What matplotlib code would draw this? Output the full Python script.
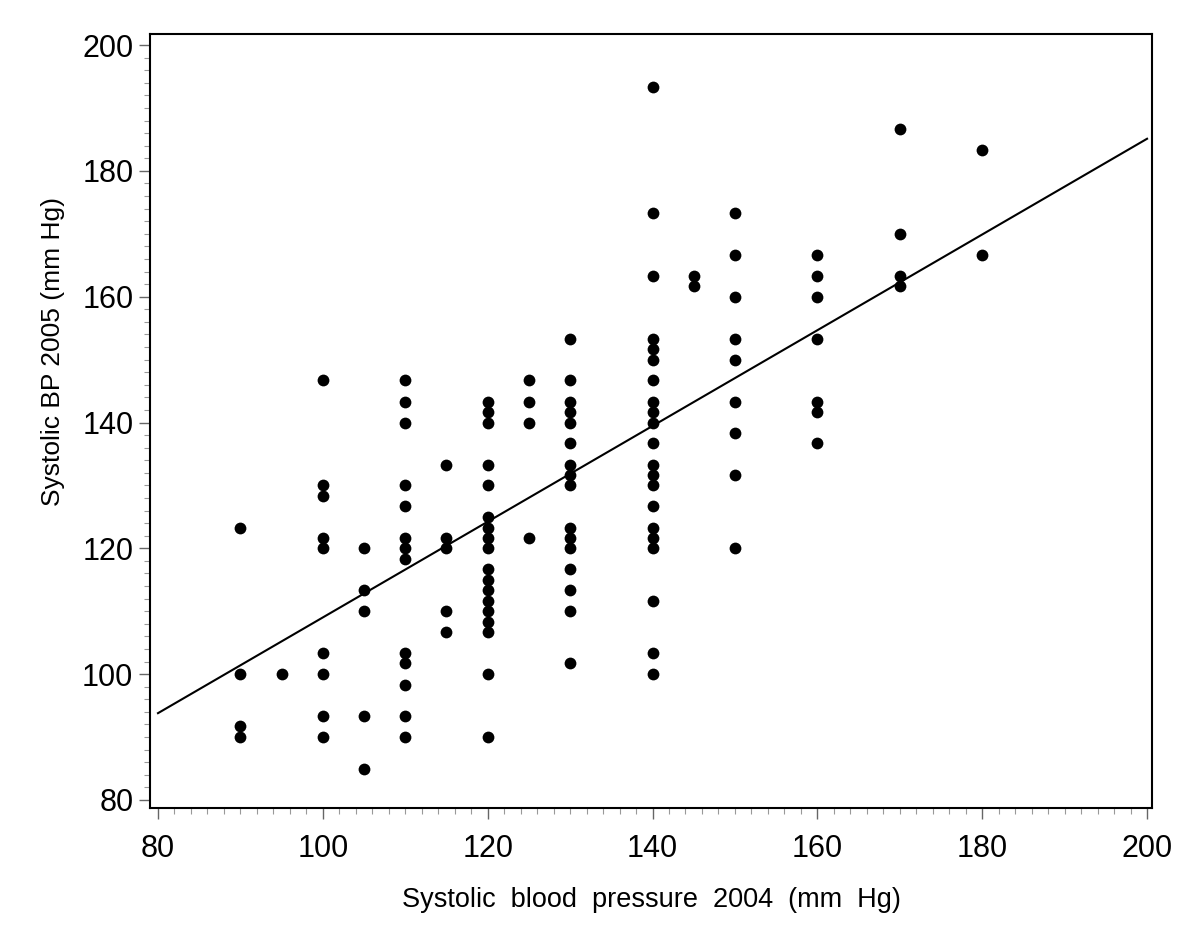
import numpy as np
import matplotlib
matplotlib.use("Agg")
import matplotlib.pyplot as plt
from matplotlib.ticker import MultipleLocator

plt.rcParams['font.family'] = ['Liberation Sans', 'DejaVu Sans']

# Systolic BP 2004 (x) -> list of systolic BP 2005 values (y)
bp2004_levels = [90, 95, 100, 105, 110, 115, 120, 125, 130, 140, 145, 150, 160, 170, 180]
bp2005_at_90 = [123.3, 100, 91.7, 90]
bp2005_at_95 = [100]
bp2005_at_100 = [146.7, 130, 128.3, 121.7, 120, 103.3, 100, 93.3, 90]
bp2005_at_105 = [120, 113.3, 110, 93.3, 85]
bp2005_at_110 = [146.7, 143.3, 140, 130, 126.7, 121.7, 120, 118.3, 103.3, 101.7, 98.3, 93.3, 90]
bp2005_at_115 = [133.3, 121.7, 120, 110, 106.7]
bp2005_at_120 = [143.3, 141.7, 140, 133.3, 130, 125, 123.3, 121.7, 120, 116.7, 115, 113.3,
                 111.7, 110, 108.3, 106.7, 100, 90]
bp2005_at_125 = [146.7, 143.3, 140, 121.7]
bp2005_at_130 = [153.3, 146.7, 143.3, 141.7, 140, 136.7, 133.3, 131.7, 130, 123.3, 121.7, 120,
                 116.7, 113.3, 110, 101.7]
bp2005_at_140 = [193.3, 173.3, 163.3, 153.3, 151.7, 150, 146.7, 143.3, 141.7, 140, 136.7, 133.3,
                 131.7, 130, 126.7, 123.3, 121.7, 120, 111.7, 103.3, 100]
bp2005_at_145 = [163.3, 161.7]
bp2005_at_150 = [173.3, 166.7, 160, 153.3, 150, 143.3, 138.3, 131.7, 120]
bp2005_at_160 = [166.7, 163.3, 160, 153.3, 143.3, 141.7, 136.7]
bp2005_at_170 = [186.7, 170, 163.3, 161.7]
bp2005_at_180 = [183.3, 166.7]

# Regression line as drawn in the reference
fit_x = [80, 200]
fit_y = [93.8, 185.1]

groups = [bp2005_at_90, bp2005_at_95, bp2005_at_100, bp2005_at_105, bp2005_at_110,
          bp2005_at_115, bp2005_at_120, bp2005_at_125, bp2005_at_130, bp2005_at_140,
          bp2005_at_145, bp2005_at_150, bp2005_at_160, bp2005_at_170, bp2005_at_180]

x = np.concatenate([[lvl] * len(g) for lvl, g in zip(bp2004_levels, groups)]).astype(float)
y = np.concatenate(groups).astype(float)

xticks = [80, 100, 120, 140, 160, 180, 200]
yticks = [80, 100, 120, 140, 160, 180, 200]

fig = plt.figure(figsize=(12, 9.5), dpi=100)
ax = fig.add_axes([0.125, 0.1495, 0.835, 0.8147])

ax.scatter(x, y, s=72, color='black', zorder=3, linewidths=0)
ax.plot(fit_x, fit_y, color='black', lw=1.5)

ax.set_xlim(79.03, 200.6)
ax.set_ylim(78.73, 201.75)
ax.set_xticks(xticks)
ax.set_yticks(yticks)
ax.xaxis.set_minor_locator(MultipleLocator(2))
ax.yaxis.set_minor_locator(MultipleLocator(2))
ax.tick_params(which='major', direction='out', length=8, width=1, labelsize=22, color='#666666')
ax.tick_params(which='minor', direction='out', length=4, width=0.8, color='#999999')
ax.tick_params(axis='x', which='major', pad=11)
ax.tick_params(axis='y', which='major', pad=4)
for sp in ax.spines.values():
    sp.set_linewidth(1.5)

ax.set_xlabel('Systolic  blood  pressure  2004  (mm  Hg)', fontsize=19.5, labelpad=16)
fig.text(0.044, 1 - 352 / 950, 'Systolic BP 2005 (mm Hg)', rotation=90,
         fontsize=19, ha='center', va='center')

fig.savefig('out.png', dpi=100)
